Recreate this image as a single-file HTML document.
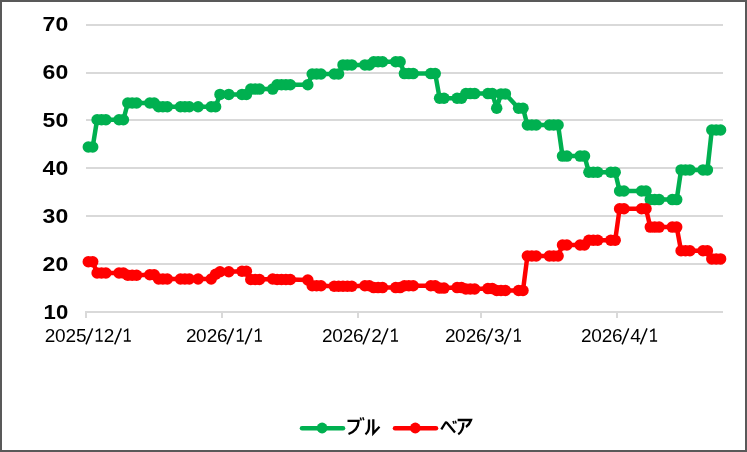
<!DOCTYPE html>
<html><head><meta charset="utf-8"><style>
html,body{margin:0;padding:0;background:#fff;}
svg{display:block;will-change:transform;}
text{font-family:"Liberation Sans",sans-serif;}
</style></head><body>
<svg width="747" height="452" viewBox="0 0 747 452">
<rect x="0" y="0" width="747" height="452" fill="#fff"/>
<rect x="86" y="24" width="637" height="2" fill="#d9d9d9"/>
<rect x="86" y="72" width="637" height="2" fill="#d9d9d9"/>
<rect x="86" y="119" width="637" height="2" fill="#d9d9d9"/>
<rect x="86" y="167" width="637" height="2" fill="#d9d9d9"/>
<rect x="86" y="215" width="637" height="2" fill="#d9d9d9"/>
<rect x="86" y="263" width="637" height="2" fill="#d9d9d9"/>
<rect x="86" y="311" width="637" height="2" fill="#d9d9d9"/>
<rect x="85" y="311" width="2" height="7" fill="#d9d9d9"/>
<rect x="221" y="311" width="2" height="7" fill="#d9d9d9"/>
<rect x="357" y="311" width="2" height="7" fill="#d9d9d9"/>
<rect x="480" y="311" width="2" height="7" fill="#d9d9d9"/>
<rect x="616" y="311" width="2" height="7" fill="#d9d9d9"/>

<g font-size="19.5" font-weight="bold" fill="#000">
<text x="68.2" y="31.4" text-anchor="end" textLength="25.6" lengthAdjust="spacingAndGlyphs">70</text>
<text x="68.2" y="79.2" text-anchor="end" textLength="25.6" lengthAdjust="spacingAndGlyphs">60</text>
<text x="68.2" y="127.1" text-anchor="end" textLength="25.6" lengthAdjust="spacingAndGlyphs">50</text>
<text x="68.2" y="174.9" text-anchor="end" textLength="25.6" lengthAdjust="spacingAndGlyphs">40</text>
<text x="68.2" y="222.7" text-anchor="end" textLength="25.6" lengthAdjust="spacingAndGlyphs">30</text>
<text x="68.2" y="270.6" text-anchor="end" textLength="25.6" lengthAdjust="spacingAndGlyphs">20</text>
<text x="68.2" y="319.2" text-anchor="end" textLength="24.6" lengthAdjust="spacingAndGlyphs">10</text>
</g>
<g font-size="19" fill="#000">
<text x="50.10" y="341.9" text-anchor="middle">2</text><text x="60.20" y="341.9" text-anchor="middle">0</text><text x="70.80" y="341.9" text-anchor="middle">2</text><text x="81.20" y="341.9" text-anchor="middle">5</text><text x="109.05" y="341.9" text-anchor="middle">2</text><g fill="none" stroke="#000" stroke-width="1.45"><path d="M99.50 328.6 V341.6 M95.80 331.6 L99.50 329.0 M95.70 341.0 H102.70" /><path d="M127.65 328.6 V341.6 M123.95 331.6 L127.65 329.0 M123.85 341.0 H130.85" /><path d="M86.00 344.4 L92.60 328.4"/><path d="M114.70 344.4 L121.30 328.4"/></g>
<text x="191.22" y="341.9" text-anchor="middle">2</text><text x="201.32" y="341.9" text-anchor="middle">0</text><text x="211.92" y="341.9" text-anchor="middle">2</text><text x="222.22" y="341.9" text-anchor="middle">6</text><g fill="none" stroke="#000" stroke-width="1.45"><path d="M258.72 328.6 V341.6 M255.02 331.6 L258.72 329.0 M254.92 341.0 H261.92" /><path d="M240.62 328.6 V341.6 M236.92 331.6 L240.62 329.0 M236.82 341.0 H243.82" /><path d="M226.92 344.4 L233.52 328.4"/><path d="M245.22 344.4 L251.82 328.4"/></g>
<text x="327.34" y="341.9" text-anchor="middle">2</text><text x="337.44" y="341.9" text-anchor="middle">0</text><text x="348.04" y="341.9" text-anchor="middle">2</text><text x="358.34" y="341.9" text-anchor="middle">6</text><text x="376.44" y="341.9" text-anchor="middle">2</text><g fill="none" stroke="#000" stroke-width="1.45"><path d="M394.84 328.6 V341.6 M391.14 331.6 L394.84 329.0 M391.04 341.0 H398.04" /><path d="M363.04 344.4 L369.64 328.4"/><path d="M381.34 344.4 L387.94 328.4"/></g>
<text x="450.29" y="341.9" text-anchor="middle">2</text><text x="460.39" y="341.9" text-anchor="middle">0</text><text x="470.99" y="341.9" text-anchor="middle">2</text><text x="481.29" y="341.9" text-anchor="middle">6</text><text x="499.39" y="341.9" text-anchor="middle">3</text><g fill="none" stroke="#000" stroke-width="1.45"><path d="M517.79 328.6 V341.6 M514.09 331.6 L517.79 329.0 M513.99 341.0 H520.99" /><path d="M485.99 344.4 L492.59 328.4"/><path d="M504.29 344.4 L510.89 328.4"/></g>
<text x="586.41" y="341.9" text-anchor="middle">2</text><text x="596.51" y="341.9" text-anchor="middle">0</text><text x="607.11" y="341.9" text-anchor="middle">2</text><text x="617.41" y="341.9" text-anchor="middle">6</text><text x="635.51" y="341.9" text-anchor="middle">4</text><g fill="none" stroke="#000" stroke-width="1.45"><path d="M653.91 328.6 V341.6 M650.21 331.6 L653.91 329.0 M650.11 341.0 H657.11" /><path d="M622.11 344.4 L628.71 328.4"/><path d="M640.41 344.4 L647.01 328.4"/></g>
</g>
<polyline points="88.3,147.0 92.7,147.0 97.1,119.7 101.5,119.7 105.9,119.7 119.0,119.7 123.4,119.7 127.8,103.0 132.2,103.0 136.6,103.0 149.8,103.0 154.2,103.0 158.6,106.8 162.9,106.8 167.3,106.8 180.5,106.8 184.9,106.8 189.3,106.8 198.1,106.8 211.2,106.8 215.6,106.8 220.0,94.4 228.8,94.4 242.0,94.4 246.4,94.4 250.8,89.1 255.2,89.1 259.5,89.1 272.7,89.1 277.1,84.8 281.5,84.8 285.9,84.8 290.3,84.8 307.8,84.8 312.2,74.0 316.6,74.0 321.0,74.0 334.2,74.0 338.6,74.0 343.0,64.9 347.4,64.9 351.8,64.9 364.9,64.9 369.3,64.9 373.7,61.8 378.1,61.8 382.5,61.8 395.7,61.8 400.1,61.8 404.4,73.6 408.8,73.6 413.2,73.6 430.8,73.6 435.2,73.6 439.6,98.2 444.0,98.2 457.1,98.2 461.5,98.2 465.9,93.6 470.3,93.6 474.7,93.6 487.9,93.6 492.3,93.6 496.7,108.2 501.0,93.9 505.4,93.9 518.6,108.2 523.0,108.2 527.4,125.0 531.8,125.0 536.2,125.0 549.4,125.0 553.7,125.0 558.1,125.0 562.5,156.1 566.9,156.1 580.1,156.1 584.5,156.1 588.9,172.3 593.3,172.3 597.7,172.3 610.8,172.3 615.2,172.3 619.6,191.0 624.0,191.0 641.6,191.0 646.0,191.0 650.3,199.6 654.7,199.6 659.1,199.6 672.3,199.6 676.7,199.6 681.1,169.9 685.5,169.9 689.9,169.9 703.0,169.9 707.4,169.9 711.8,130.0 716.2,130.0 720.6,130.0" fill="none" stroke="#00b050" stroke-width="4.5" stroke-linejoin="round" stroke-linecap="round"/>
<g fill="#00b050"><circle cx="88.3" cy="147.0" r="5.75"/><circle cx="92.7" cy="147.0" r="5.75"/><circle cx="97.1" cy="119.7" r="5.75"/><circle cx="101.5" cy="119.7" r="5.75"/><circle cx="105.9" cy="119.7" r="5.75"/><circle cx="119.0" cy="119.7" r="5.75"/><circle cx="123.4" cy="119.7" r="5.75"/><circle cx="127.8" cy="103.0" r="5.75"/><circle cx="132.2" cy="103.0" r="5.75"/><circle cx="136.6" cy="103.0" r="5.75"/><circle cx="149.8" cy="103.0" r="5.75"/><circle cx="154.2" cy="103.0" r="5.75"/><circle cx="158.6" cy="106.8" r="5.75"/><circle cx="162.9" cy="106.8" r="5.75"/><circle cx="167.3" cy="106.8" r="5.75"/><circle cx="180.5" cy="106.8" r="5.75"/><circle cx="184.9" cy="106.8" r="5.75"/><circle cx="189.3" cy="106.8" r="5.75"/><circle cx="198.1" cy="106.8" r="5.75"/><circle cx="211.2" cy="106.8" r="5.75"/><circle cx="215.6" cy="106.8" r="5.75"/><circle cx="220.0" cy="94.4" r="5.75"/><circle cx="228.8" cy="94.4" r="5.75"/><circle cx="242.0" cy="94.4" r="5.75"/><circle cx="246.4" cy="94.4" r="5.75"/><circle cx="250.8" cy="89.1" r="5.75"/><circle cx="255.2" cy="89.1" r="5.75"/><circle cx="259.5" cy="89.1" r="5.75"/><circle cx="272.7" cy="89.1" r="5.75"/><circle cx="277.1" cy="84.8" r="5.75"/><circle cx="281.5" cy="84.8" r="5.75"/><circle cx="285.9" cy="84.8" r="5.75"/><circle cx="290.3" cy="84.8" r="5.75"/><circle cx="307.8" cy="84.8" r="5.75"/><circle cx="312.2" cy="74.0" r="5.75"/><circle cx="316.6" cy="74.0" r="5.75"/><circle cx="321.0" cy="74.0" r="5.75"/><circle cx="334.2" cy="74.0" r="5.75"/><circle cx="338.6" cy="74.0" r="5.75"/><circle cx="343.0" cy="64.9" r="5.75"/><circle cx="347.4" cy="64.9" r="5.75"/><circle cx="351.8" cy="64.9" r="5.75"/><circle cx="364.9" cy="64.9" r="5.75"/><circle cx="369.3" cy="64.9" r="5.75"/><circle cx="373.7" cy="61.8" r="5.75"/><circle cx="378.1" cy="61.8" r="5.75"/><circle cx="382.5" cy="61.8" r="5.75"/><circle cx="395.7" cy="61.8" r="5.75"/><circle cx="400.1" cy="61.8" r="5.75"/><circle cx="404.4" cy="73.6" r="5.75"/><circle cx="408.8" cy="73.6" r="5.75"/><circle cx="413.2" cy="73.6" r="5.75"/><circle cx="430.8" cy="73.6" r="5.75"/><circle cx="435.2" cy="73.6" r="5.75"/><circle cx="439.6" cy="98.2" r="5.75"/><circle cx="444.0" cy="98.2" r="5.75"/><circle cx="457.1" cy="98.2" r="5.75"/><circle cx="461.5" cy="98.2" r="5.75"/><circle cx="465.9" cy="93.6" r="5.75"/><circle cx="470.3" cy="93.6" r="5.75"/><circle cx="474.7" cy="93.6" r="5.75"/><circle cx="487.9" cy="93.6" r="5.75"/><circle cx="492.3" cy="93.6" r="5.75"/><circle cx="496.7" cy="108.2" r="5.75"/><circle cx="501.0" cy="93.9" r="5.75"/><circle cx="505.4" cy="93.9" r="5.75"/><circle cx="518.6" cy="108.2" r="5.75"/><circle cx="523.0" cy="108.2" r="5.75"/><circle cx="527.4" cy="125.0" r="5.75"/><circle cx="531.8" cy="125.0" r="5.75"/><circle cx="536.2" cy="125.0" r="5.75"/><circle cx="549.4" cy="125.0" r="5.75"/><circle cx="553.7" cy="125.0" r="5.75"/><circle cx="558.1" cy="125.0" r="5.75"/><circle cx="562.5" cy="156.1" r="5.75"/><circle cx="566.9" cy="156.1" r="5.75"/><circle cx="580.1" cy="156.1" r="5.75"/><circle cx="584.5" cy="156.1" r="5.75"/><circle cx="588.9" cy="172.3" r="5.75"/><circle cx="593.3" cy="172.3" r="5.75"/><circle cx="597.7" cy="172.3" r="5.75"/><circle cx="610.8" cy="172.3" r="5.75"/><circle cx="615.2" cy="172.3" r="5.75"/><circle cx="619.6" cy="191.0" r="5.75"/><circle cx="624.0" cy="191.0" r="5.75"/><circle cx="641.6" cy="191.0" r="5.75"/><circle cx="646.0" cy="191.0" r="5.75"/><circle cx="650.3" cy="199.6" r="5.75"/><circle cx="654.7" cy="199.6" r="5.75"/><circle cx="659.1" cy="199.6" r="5.75"/><circle cx="672.3" cy="199.6" r="5.75"/><circle cx="676.7" cy="199.6" r="5.75"/><circle cx="681.1" cy="169.9" r="5.75"/><circle cx="685.5" cy="169.9" r="5.75"/><circle cx="689.9" cy="169.9" r="5.75"/><circle cx="703.0" cy="169.9" r="5.75"/><circle cx="707.4" cy="169.9" r="5.75"/><circle cx="711.8" cy="130.0" r="5.75"/><circle cx="716.2" cy="130.0" r="5.75"/><circle cx="720.6" cy="130.0" r="5.75"/></g>
<polyline points="88.3,261.8 92.7,261.8 97.1,273.0 101.5,273.0 105.9,273.0 119.0,273.0 123.4,273.0 127.8,275.2 132.2,275.2 136.6,275.2 149.8,274.7 154.2,274.7 158.6,279.0 162.9,279.0 167.3,279.0 180.5,279.0 184.9,279.0 189.3,279.0 198.1,279.0 211.2,279.0 215.6,274.2 220.0,271.8 228.8,271.8 242.0,271.3 246.4,271.3 250.8,279.5 255.2,279.5 259.5,279.5 272.7,279.0 277.1,279.5 281.5,279.5 285.9,279.5 290.3,279.5 307.8,280.0 312.2,285.7 316.6,285.7 321.0,285.7 334.2,286.2 338.6,286.2 343.0,286.2 347.4,286.2 351.8,286.2 364.9,285.7 369.3,285.7 373.7,287.6 378.1,287.6 382.5,287.6 395.7,287.6 400.1,287.6 404.4,285.7 408.8,285.7 413.2,285.7 430.8,285.7 435.2,285.7 439.6,288.1 444.0,288.1 457.1,287.6 461.5,287.6 465.9,289.0 470.3,289.0 474.7,289.0 487.9,288.6 492.3,288.6 496.7,290.5 501.0,290.5 505.4,290.5 518.6,290.5 523.0,290.5 527.4,256.0 531.8,256.0 536.2,256.0 549.4,256.0 553.7,256.0 558.1,256.0 562.5,245.0 566.9,245.0 580.1,245.0 584.5,245.0 588.9,240.2 593.3,240.2 597.7,240.2 610.8,240.2 615.2,240.2 619.6,208.7 624.0,208.7 641.6,208.7 646.0,208.7 650.3,227.1 654.7,227.1 659.1,227.1 672.3,227.1 676.7,227.1 681.1,250.8 685.5,250.8 689.9,250.8 703.0,250.8 707.4,250.8 711.8,258.9 716.2,258.9 720.6,258.9" fill="none" stroke="#ff0000" stroke-width="4.5" stroke-linejoin="round" stroke-linecap="round"/>
<g fill="#ff0000"><circle cx="88.3" cy="261.8" r="5.75"/><circle cx="92.7" cy="261.8" r="5.75"/><circle cx="97.1" cy="273.0" r="5.75"/><circle cx="101.5" cy="273.0" r="5.75"/><circle cx="105.9" cy="273.0" r="5.75"/><circle cx="119.0" cy="273.0" r="5.75"/><circle cx="123.4" cy="273.0" r="5.75"/><circle cx="127.8" cy="275.2" r="5.75"/><circle cx="132.2" cy="275.2" r="5.75"/><circle cx="136.6" cy="275.2" r="5.75"/><circle cx="149.8" cy="274.7" r="5.75"/><circle cx="154.2" cy="274.7" r="5.75"/><circle cx="158.6" cy="279.0" r="5.75"/><circle cx="162.9" cy="279.0" r="5.75"/><circle cx="167.3" cy="279.0" r="5.75"/><circle cx="180.5" cy="279.0" r="5.75"/><circle cx="184.9" cy="279.0" r="5.75"/><circle cx="189.3" cy="279.0" r="5.75"/><circle cx="198.1" cy="279.0" r="5.75"/><circle cx="211.2" cy="279.0" r="5.75"/><circle cx="215.6" cy="274.2" r="5.75"/><circle cx="220.0" cy="271.8" r="5.75"/><circle cx="228.8" cy="271.8" r="5.75"/><circle cx="242.0" cy="271.3" r="5.75"/><circle cx="246.4" cy="271.3" r="5.75"/><circle cx="250.8" cy="279.5" r="5.75"/><circle cx="255.2" cy="279.5" r="5.75"/><circle cx="259.5" cy="279.5" r="5.75"/><circle cx="272.7" cy="279.0" r="5.75"/><circle cx="277.1" cy="279.5" r="5.75"/><circle cx="281.5" cy="279.5" r="5.75"/><circle cx="285.9" cy="279.5" r="5.75"/><circle cx="290.3" cy="279.5" r="5.75"/><circle cx="307.8" cy="280.0" r="5.75"/><circle cx="312.2" cy="285.7" r="5.75"/><circle cx="316.6" cy="285.7" r="5.75"/><circle cx="321.0" cy="285.7" r="5.75"/><circle cx="334.2" cy="286.2" r="5.75"/><circle cx="338.6" cy="286.2" r="5.75"/><circle cx="343.0" cy="286.2" r="5.75"/><circle cx="347.4" cy="286.2" r="5.75"/><circle cx="351.8" cy="286.2" r="5.75"/><circle cx="364.9" cy="285.7" r="5.75"/><circle cx="369.3" cy="285.7" r="5.75"/><circle cx="373.7" cy="287.6" r="5.75"/><circle cx="378.1" cy="287.6" r="5.75"/><circle cx="382.5" cy="287.6" r="5.75"/><circle cx="395.7" cy="287.6" r="5.75"/><circle cx="400.1" cy="287.6" r="5.75"/><circle cx="404.4" cy="285.7" r="5.75"/><circle cx="408.8" cy="285.7" r="5.75"/><circle cx="413.2" cy="285.7" r="5.75"/><circle cx="430.8" cy="285.7" r="5.75"/><circle cx="435.2" cy="285.7" r="5.75"/><circle cx="439.6" cy="288.1" r="5.75"/><circle cx="444.0" cy="288.1" r="5.75"/><circle cx="457.1" cy="287.6" r="5.75"/><circle cx="461.5" cy="287.6" r="5.75"/><circle cx="465.9" cy="289.0" r="5.75"/><circle cx="470.3" cy="289.0" r="5.75"/><circle cx="474.7" cy="289.0" r="5.75"/><circle cx="487.9" cy="288.6" r="5.75"/><circle cx="492.3" cy="288.6" r="5.75"/><circle cx="496.7" cy="290.5" r="5.75"/><circle cx="501.0" cy="290.5" r="5.75"/><circle cx="505.4" cy="290.5" r="5.75"/><circle cx="518.6" cy="290.5" r="5.75"/><circle cx="523.0" cy="290.5" r="5.75"/><circle cx="527.4" cy="256.0" r="5.75"/><circle cx="531.8" cy="256.0" r="5.75"/><circle cx="536.2" cy="256.0" r="5.75"/><circle cx="549.4" cy="256.0" r="5.75"/><circle cx="553.7" cy="256.0" r="5.75"/><circle cx="558.1" cy="256.0" r="5.75"/><circle cx="562.5" cy="245.0" r="5.75"/><circle cx="566.9" cy="245.0" r="5.75"/><circle cx="580.1" cy="245.0" r="5.75"/><circle cx="584.5" cy="245.0" r="5.75"/><circle cx="588.9" cy="240.2" r="5.75"/><circle cx="593.3" cy="240.2" r="5.75"/><circle cx="597.7" cy="240.2" r="5.75"/><circle cx="610.8" cy="240.2" r="5.75"/><circle cx="615.2" cy="240.2" r="5.75"/><circle cx="619.6" cy="208.7" r="5.75"/><circle cx="624.0" cy="208.7" r="5.75"/><circle cx="641.6" cy="208.7" r="5.75"/><circle cx="646.0" cy="208.7" r="5.75"/><circle cx="650.3" cy="227.1" r="5.75"/><circle cx="654.7" cy="227.1" r="5.75"/><circle cx="659.1" cy="227.1" r="5.75"/><circle cx="672.3" cy="227.1" r="5.75"/><circle cx="676.7" cy="227.1" r="5.75"/><circle cx="681.1" cy="250.8" r="5.75"/><circle cx="685.5" cy="250.8" r="5.75"/><circle cx="689.9" cy="250.8" r="5.75"/><circle cx="703.0" cy="250.8" r="5.75"/><circle cx="707.4" cy="250.8" r="5.75"/><circle cx="711.8" cy="258.9" r="5.75"/><circle cx="716.2" cy="258.9" r="5.75"/><circle cx="720.6" cy="258.9" r="5.75"/></g>


<g stroke-linecap="round">
<line x1="302" y1="428.3" x2="343" y2="428.3" stroke="#00b050" stroke-width="4.5"/>
<circle cx="322.1" cy="428" r="5.4" fill="#00b050"/>
<line x1="395" y1="428.3" x2="436" y2="428.3" stroke="#ff0000" stroke-width="4.5"/>
<circle cx="415.3" cy="428" r="5.4" fill="#ff0000"/>
</g>

<g fill="none" stroke="#000" stroke-width="2.3" stroke-linecap="butt" stroke-linejoin="miter">
<path d="M347.5 420.8 H358.6 Q358.3 430.5 348.5 434"/>
<path d="M369 419.4 V427 Q368.8 431.8 365.4 434.2"/>
<path d="M373.3 419.2 V433.3 L379.5 426.8"/>
<path d="M441.3 429.3 L445.3 423 Q446 421.8 446.9 422.8 L455 432.5"/>
<path d="M457.6 420 H471 Q469.3 424.8 466 427"/>
<path d="M463.3 422.6 Q463.6 430.8 458.2 434.2"/>
</g>
<g fill="none" stroke="#000" stroke-width="1.5">
<path d="M360.3 417.5 L361.3 420.5 M362.8 417.2 L363.8 420.2"/>
<path d="M453 421 L454 423.8 M455.2 420.7 L456.2 423.5"/>
</g>

<rect x="1" y="1" width="745" height="450" fill="none" stroke="#595959" stroke-width="2"/>
</svg>
</body></html>
